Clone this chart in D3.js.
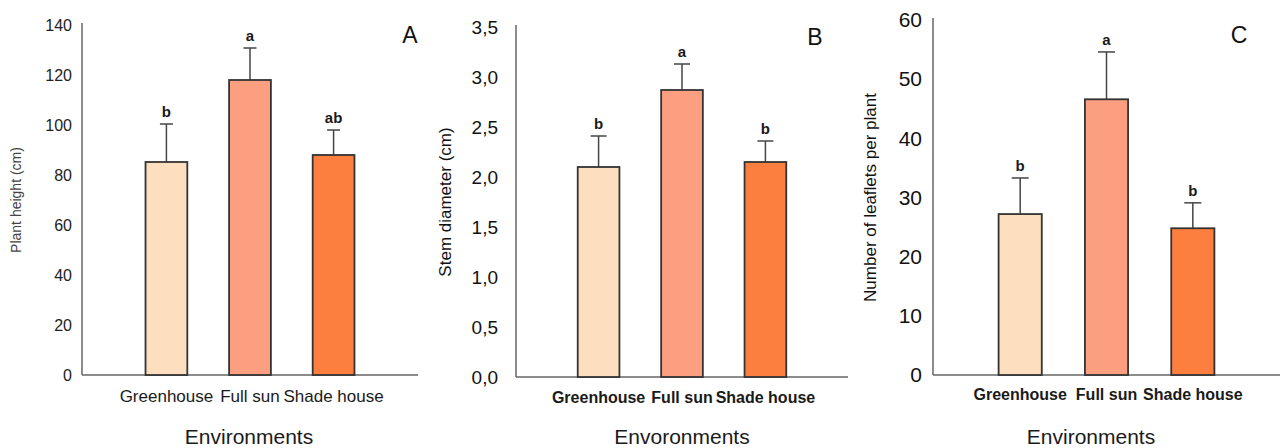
<!DOCTYPE html>
<html>
<head>
<meta charset="utf-8">
<script src="https://cdn.jsdelivr.net/npm/d3@7"></script>
<style>
  html, body { margin: 0; padding: 0; background: #fff; }
  svg { display: block; font-family: "Liberation Sans", Arial, sans-serif; }
</style>
</head>
<body>
<svg id="chart" width="1280" height="448"></svg>
<script>
// Growing environments
const categories = ["Greenhouse", "Full sun", "Shade house"];
const barColors = ["#FDDFC0", "#FC9E80", "#FD7F3F"];

// A: plant height (cm), mean and upper error
const heightMeans = [85.2, 118.0, 88.0];
const heightErrors = [15.2, 12.8, 10.0];
const heightLetters = ["b", "a", "ab"];
const heightTicks = [0, 20, 40, 60, 80, 100, 120, 140];
const heightTickLabels = ["0", "20", "40", "60", "80", "100", "120", "140"];

// B: stem diameter (cm)
const stemMeans = [2.10, 2.87, 2.15];
const stemErrors = [0.31, 0.26, 0.21];
const stemLetters = ["b", "a", "b"];
const stemTicks = [0, 0.5, 1.0, 1.5, 2.0, 2.5, 3.0, 3.5];
const stemTickLabels = ["0,0", "0,5", "1,0", "1,5", "2,0", "2,5", "3,0", "3,5"];

// C: number of leaflets per plant
const leafletMeans = [27.2, 46.6, 24.8];
const leafletErrors = [6.1, 8.0, 4.3];
const leafletLetters = ["b", "a", "b"];
const leafletTicks = [0, 10, 20, 30, 40, 50, 60];
const leafletTickLabels = ["0", "10", "20", "30", "40", "50", "60"];

const svg = d3.select("#chart");

// Layout of the three panels
const panels = [
  {
    tag: "A", means: heightMeans, errors: heightErrors, letters: heightLetters,
    ticks: heightTicks, tickLabels: heightTickLabels, max: 140,
    yTitle: "Plant height (cm)", xTitle: "Environments",
    left: 82, right: 418, bottom: 375, top: 25,
    padOuter: 0.76, tickFont: 16, tickPad: 10, tickColor: "#222",
    catFont: 17, catWeight: "normal", catY: 402,
    yTitleX: 21, yTitleFont: 14, yTitleColor: "#444",
    xTitleX: 249, xTitleY: 444, capW: 13,
    tagX: 410, tagY: 43
  },
  {
    tag: "B", means: stemMeans, errors: stemErrors, letters: stemLetters,
    ticks: stemTicks, tickLabels: stemTickLabels, max: 3.5,
    yTitle: "Stem diameter (cm)", xTitle: "Envoronments",
    left: 516, right: 848, bottom: 377, top: 27,
    padOuter: 0.74, tickFont: 19, tickPad: 18, tickColor: "#111",
    catFont: 16, catWeight: "bold", catY: 403,
    yTitleX: 451, yTitleFont: 17, yTitleColor: "#111",
    xTitleX: 682, xTitleY: 444, capW: 16,
    tagX: 815, tagY: 45
  },
  {
    tag: "C", means: leafletMeans, errors: leafletErrors, letters: leafletLetters,
    ticks: leafletTicks, tickLabels: leafletTickLabels, max: 60,
    yTitle: "Number of leaflets per plant", xTitle: "Environments",
    left: 933, right: 1280, bottom: 375, top: 20,
    padOuter: 0.76, tickFont: 21, tickPad: 11, tickColor: "#111",
    catFont: 16, catWeight: "bold", catY: 400,
    yTitleX: 876, yTitleFont: 17, yTitleColor: "#111",
    xTitleX: 1091, xTitleY: 444, capW: 17,
    tagX: 1239, tagY: 43
  }
];

panels.forEach(p => {
  const g = svg.append("g");

  const x = d3.scaleBand()
    .domain(categories)
    .range([p.left, p.right])
    .paddingInner(0.5)
    .paddingOuter(p.padOuter);

  const y = d3.scaleLinear()
    .domain([0, p.max])
    .range([p.bottom, p.top]);

  // y axis: line and labels only, no tick marks
  const yAxis = g.append("g")
    .attr("transform", `translate(${p.left},0)`)
    .call(d3.axisLeft(y)
      .tickValues(p.ticks)
      .tickFormat((d, i) => p.tickLabels[i])
      .tickSize(0)
      .tickPadding(p.tickPad));
  yAxis.select(".domain")
    .attr("stroke", "#666").attr("stroke-width", 1.5)
    .attr("d", `M0,${y(p.max) - 2}V${y(0)}`);
  yAxis.selectAll("text")
    .attr("font-size", p.tickFont)
    .attr("fill", p.tickColor)
    .attr("font-family", "'Liberation Sans', Arial, sans-serif");

  // x axis baseline with category labels
  const xAxis = g.append("g")
    .attr("transform", `translate(0,${y(0)})`)
    .call(d3.axisBottom(x).tickSize(0).tickPadding(0));
  xAxis.select(".domain")
    .attr("stroke", "#666").attr("stroke-width", 1.5)
    .attr("d", `M${p.left},0H${p.right}`);
  xAxis.selectAll("text")
    .attr("font-size", p.catFont)
    .attr("font-weight", p.catWeight)
    .attr("fill", "#1a1a1a")
    .attr("dy", null)
    .attr("y", p.catY - y(0))
    .attr("font-family", "'Liberation Sans', Arial, sans-serif");

  const rows = categories.map((c, i) => ({
    cat: c, mean: p.means[i], err: p.errors[i], letter: p.letters[i], color: barColors[i]
  }));

  // upper error whiskers
  g.selectAll(".whisker").data(rows).join("line")
    .attr("x1", d => x(d.cat) + x.bandwidth() / 2)
    .attr("x2", d => x(d.cat) + x.bandwidth() / 2)
    .attr("y1", d => y(d.mean))
    .attr("y2", d => y(d.mean + d.err))
    .attr("stroke", "#444").attr("stroke-width", 1.5);
  g.selectAll(".cap").data(rows).join("line")
    .attr("x1", d => x(d.cat) + x.bandwidth() / 2 - p.capW / 2)
    .attr("x2", d => x(d.cat) + x.bandwidth() / 2 + p.capW / 2)
    .attr("y1", d => y(d.mean + d.err))
    .attr("y2", d => y(d.mean + d.err))
    .attr("stroke", "#444").attr("stroke-width", 1.5);

  // bars
  g.selectAll(".bar").data(rows).join("rect")
    .attr("x", d => x(d.cat))
    .attr("y", d => y(d.mean))
    .attr("width", x.bandwidth())
    .attr("height", d => y(0) - y(d.mean))
    .attr("fill", d => d.color)
    .attr("stroke", "#333").attr("stroke-width", 1.8);

  // significance letters
  g.selectAll(".sig").data(rows).join("text")
    .attr("x", d => x(d.cat) + x.bandwidth() / 2)
    .attr("y", d => y(d.mean + d.err) - 7)
    .attr("text-anchor", "middle")
    .attr("font-size", 15)
    .attr("font-weight", "bold")
    .attr("fill", "#1a1a1a")
    .text(d => d.letter);

  // axis titles
  g.append("text")
    .attr("transform", `translate(${p.yTitleX},${(p.top + p.bottom) / 2}) rotate(-90)`)
    .attr("text-anchor", "middle")
    .attr("font-size", p.yTitleFont)
    .attr("fill", p.yTitleColor)
    .text(p.yTitle);
  g.append("text")
    .attr("x", p.xTitleX)
    .attr("y", p.xTitleY)
    .attr("text-anchor", "middle")
    .attr("font-size", 21)
    .attr("fill", "#1a1a1a")
    .text(p.xTitle);

  // panel tag
  g.append("text")
    .attr("x", p.tagX)
    .attr("y", p.tagY)
    .attr("text-anchor", "middle")
    .attr("font-size", 23)
    .attr("fill", "#111")
    .text(p.tag);
});
</script>
</body>
</html>
